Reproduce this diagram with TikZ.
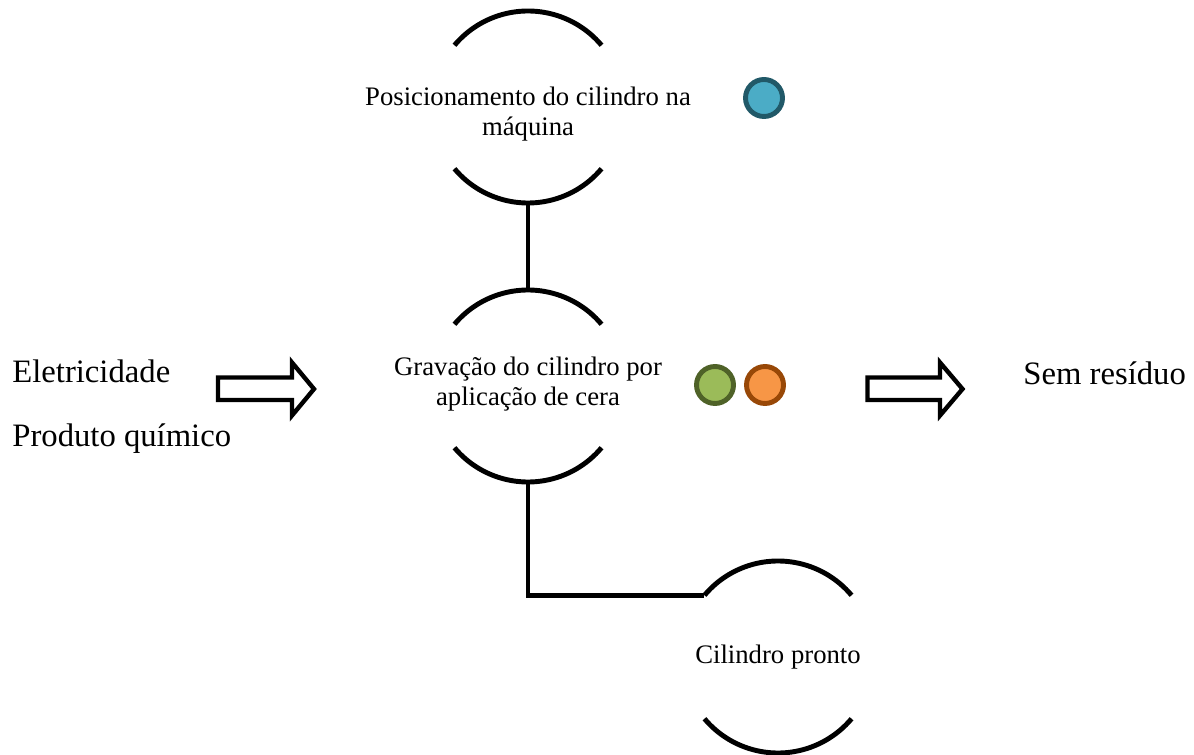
\documentclass[tikz,border=0pt]{standalone}
\usepackage{fontspec}
\setmainfont{Liberation Serif}
\usetikzlibrary{positioning}

\definecolor{aquafill}{HTML}{4BACC6}
\definecolor{aqualine}{HTML}{215968}
\definecolor{leaffill}{HTML}{9BBB59}
\definecolor{leafline}{HTML}{4F6228}
\definecolor{sunfill}{HTML}{F79646}
\definecolor{sunline}{HTML}{984807}

\tikzset{
  stage/.style={circle, inner sep=0pt, outer sep=0pt, minimum size=3.84cm},
  stagearc/.style={line width=2.8pt, black},
  stagetext/.style={align=center, font=\fontsize{15.2}{17.5}\selectfont},
  flowtext/.style={anchor=base west, inner sep=0pt, font=\fontsize{18.6}{22}\selectfont},
  hollow/.style={line width=2.5pt, draw=black, fill=white, line join=miter},
  marker/.style={line width=2.8pt},
}

\begin{document}
\begin{tikzpicture}[x=0.2mm, y=0.2mm]
	\useasboundingbox (0,0) rectangle (1194,-755);

	% Stages
	\node[stage, label={[stagetext, yshift=-1.4mm, name=pos-text]center:{Posicionamento do cilindro na\\m\'aquina}}]
	(pos) at (528,-107) {};
	\node[stage, label={[stagetext, yshift=0.4mm, name=grav-text]center:{Grava\c{c}\~ao do cilindro por\\aplica\c{c}\~ao de cera}}]
	(grav) at (528,-386) {};
	\node[stage, label={[stagetext, name=ready-text]center:{Cilindro pronto}}]
	(ready) at (778,-657) {};

	\draw[stagearc] (pos.140) arc[start angle=140, end angle=40, radius=19.2mm];
	\draw[stagearc] (pos.220) arc[start angle=220, end angle=320, radius=19.2mm];
	\draw[stagearc] (grav.140) arc[start angle=140, end angle=40, radius=19.2mm];
	\draw[stagearc] (grav.220) arc[start angle=220, end angle=320, radius=19.2mm];
	\draw[stagearc] (ready.140) arc[start angle=140, end angle=40, radius=19.2mm];
	\draw[stagearc] (ready.220) arc[start angle=220, end angle=320, radius=19.2mm];

	%% Links
	\draw[stagearc] (pos.south) -- (grav.north);
	\draw[stagearc, line join=miter] (grav.south) |- (ready.140);

	%% Markers
	\filldraw[marker, fill=aquafill, draw=aqualine] (764,-98) circle[radius=3.7mm];
	\filldraw[marker, fill=leaffill, draw=leafline] (715,-385) circle[radius=3.7mm];
	\filldraw[marker, fill=sunfill, draw=sunline] (765,-385) circle[radius=3.7mm];

	%% Inputs
	\node[flowtext] (power) at (12,-383) {Eletricidade};
	\node[flowtext] (chem) at (12,-447) {Produto qu\'imico};
	\draw[hollow] (218,-377.5) -- (292,-377.5) -- (292,-362.5) -- (314,-389)
	-- (292,-415.5) -- (292,-400) -- (218,-400) -- cycle;

	%% Outputs
	\draw[hollow] (867.5,-377.5) -- (940,-377.5) -- (940,-362.5) -- (962.5,-389)
	-- (940,-415.5) -- (940,-400) -- (867.5,-400) -- cycle;
	\node[flowtext] (waste) at (1023,-385) {Sem res\'iduo};

\end{tikzpicture}
\end{document}
